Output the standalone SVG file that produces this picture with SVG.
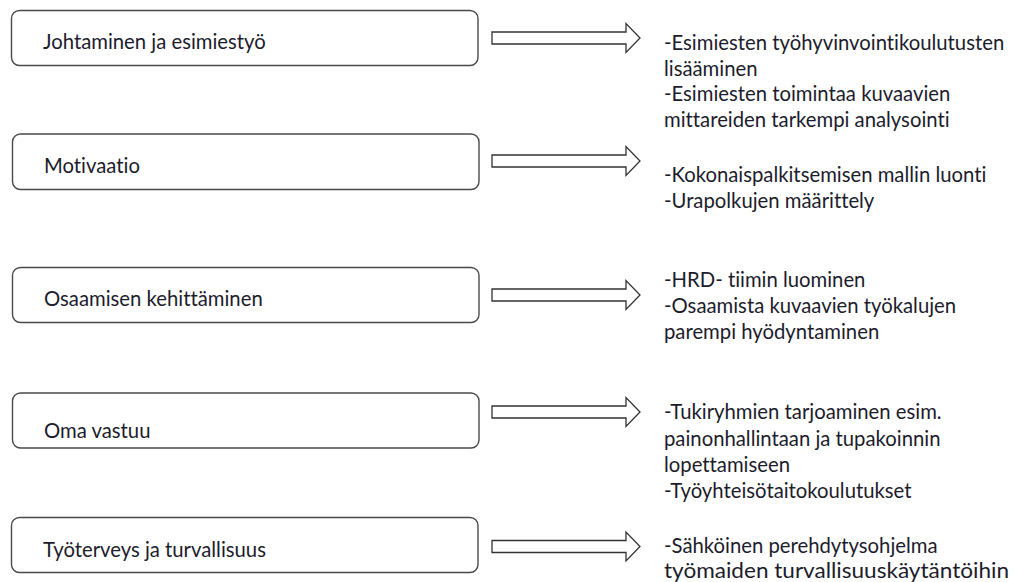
<svg xmlns="http://www.w3.org/2000/svg" width="1019" height="582" viewBox="0 0 1019 582">
<style>
  .box { fill: #ffffff; stroke: #4a4a4a; stroke-width: 1.4; }
  .lbl { font-family: Lato, "Open Sans", "Liberation Sans", sans-serif; font-size: 20.3px; fill: #1c1c2c; font-variant-ligatures: none; }
  .arrow { fill: #ffffff; stroke: #333333; stroke-width: 1.3; stroke-linejoin: miter; }
</style>
<defs>
  <polygon id="arr" points="0,-6 134,-6 134,-14.5 148,0 134,14.5 134,6 0,6"/>
</defs>
<rect width="1019" height="582" fill="#ffffff"/>

<g id="node-johtaminen">
  <rect class="box" x="11.5" y="10.5" width="466.5" height="55" rx="8"/>
  <text class="lbl" x="43" y="49">Johtaminen ja esimiestyö</text>
</g>
<g id="node-motivaatio">
  <rect class="box" x="12.5" y="134" width="466.5" height="55.5" rx="8"/>
  <text class="lbl" x="44" y="172.5">Motivaatio</text>
</g>
<g id="node-osaaminen">
  <rect class="box" x="12.5" y="267.5" width="466.5" height="55" rx="8"/>
  <text class="lbl" x="44" y="306">Osaamisen kehittäminen</text>
</g>
<g id="node-omavastuu">
  <rect class="box" x="12.5" y="393" width="466.5" height="55" rx="8"/>
  <text class="lbl" x="44" y="438">Oma vastuu</text>
</g>
<g id="node-tyoterveys">
  <rect class="box" x="11.5" y="517.5" width="466.5" height="55" rx="8"/>
  <text class="lbl" x="43" y="557">Työterveys ja turvallisuus</text>
</g>

<g id="connectors">
  <use href="#arr" class="arrow" x="492" y="38"/>
  <use href="#arr" class="arrow" x="492" y="161"/>
  <use href="#arr" class="arrow" x="492" y="295"/>
  <use href="#arr" class="arrow" x="492" y="412"/>
  <use href="#arr" class="arrow" x="492" y="546.5"/>
</g>

<g id="node-toimet-1">
  <text class="lbl" x="664"><tspan x="664" y="50">-Esimiesten työhyvinvointikoulutusten</tspan><tspan x="664" y="75.5">lisääminen</tspan><tspan x="664" y="101">-Esimiesten toimintaa kuvaavien</tspan><tspan x="664" y="127">mittareiden tarkempi analysointi</tspan></text>
</g>
<g id="node-toimet-2">
  <text class="lbl" x="664"><tspan x="664" y="182">-Kokonaispalkitsemisen mallin luonti</tspan><tspan x="664" y="207.5">-Urapolkujen määrittely</tspan></text>
</g>
<g id="node-toimet-3">
  <text class="lbl" x="664"><tspan x="664" y="287">-HRD- tiimin luominen</tspan><tspan x="664" y="313">-Osaamista kuvaavien työkalujen</tspan><tspan x="664" y="339">parempi hyödyntaminen</tspan></text>
</g>
<g id="node-toimet-4">
  <text class="lbl" x="664"><tspan x="664" y="419">-Tukiryhmien tarjoaminen esim.</tspan><tspan x="664" y="446">painonhallintaan ja tupakoinnin</tspan><tspan x="664" y="472">lopettamiseen</tspan><tspan x="664" y="498">-Työyhteisötaitokoulutukset</tspan></text>
</g>
<g id="node-toimet-5">
  <text class="lbl" x="664" y="553">-Sähköinen perehdytysohjelma</text>
  <text class="lbl" x="664" y="578" textLength="345" lengthAdjust="spacingAndGlyphs">työmaiden turvallisuuskäytäntöihin</text>
</g>
</svg>
